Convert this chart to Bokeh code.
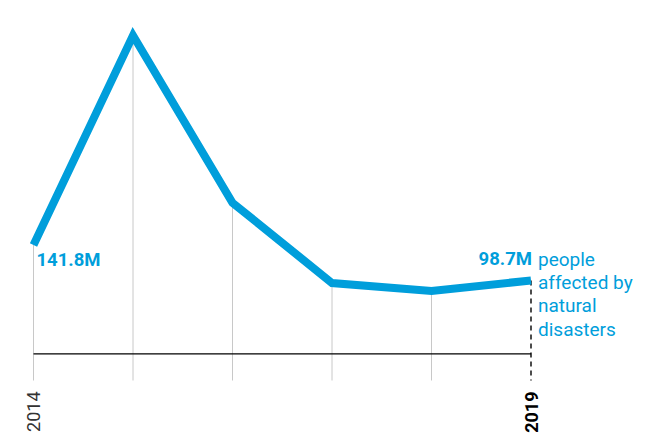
from bokeh.plotting import figure
from bokeh.models import Range1d
from bokeh.core.properties import value
from bokeh.embed import file_html
from bokeh.resources import INLINE

# ---- data ----
years = [2014, 2015, 2016, 2017, 2018, 2019]
people_m = [141.8, 396.0, 193.0, 95.6, 86.0, 98.7]
first_label = "141.8M"
last_label = "98.7M"
note_lines = ["people", "affected by", "natural", "disasters"]
tick_labels = ["2014", "2019"]

# ---- style ----
BLUE = "#009EDB"
FONT = "Roboto"
BASE_V = 9.7      # baseline level (value units)
TICK_V = -22.7    # bottom of the drop lines (value units)

W, H = 648, 436
PX_PER_YEAR = 99.5
PX_PER_M = 0.824
x0 = 2014 - 33 / PX_PER_YEAR
y_top = 361.3 / PX_PER_M

p = figure(width=W, height=H, output_backend="svg", toolbar_location=None,
           x_axis_type=None, y_axis_type=None, min_border=0,
           x_range=Range1d(x0, x0 + W / PX_PER_YEAR),
           y_range=Range1d(y_top - H / PX_PER_M, y_top))
p.outline_line_color = None
p.xgrid.visible = False
p.ygrid.visible = False
p.background_fill_color = "white"

# grey drop lines (all but last)
p.segment(x0=years[:-1], y0=people_m[:-1], x1=years[:-1], y1=[TICK_V] * (len(years) - 1),
          line_color="#c8c8c8", line_width=1)
# dashed black drop line at last year
p.segment(x0=[years[-1]], y0=[people_m[-1]], x1=[years[-1]], y1=[TICK_V],
          line_color="black", line_width=1.4, line_dash="5 4")
# baseline
p.segment(x0=[years[0]], y0=[BASE_V], x1=[years[-1]], y1=[BASE_V],
          line_color="black", line_width=1.2)

# main line
p.line(years, people_m, line_color=BLUE, line_width=8, line_join="miter", line_cap="butt")

# value labels
p.text(x=[years[0]], y=[people_m[0]], text=[first_label], text_color=BLUE,
       text_font=value(FONT), text_font_size="18.5px", text_font_style="bold",
       text_align="left", text_baseline="alphabetic", x_offset=3, y_offset=15)
p.text(x=[years[-1]], y=[people_m[-1]], text=[last_label], text_color=BLUE,
       text_font=value(FONT), text_font_size="18.5px", text_font_style="bold",
       text_align="right", text_baseline="alphabetic", x_offset=1, y_offset=-21)
for i, line in enumerate(note_lines):
    p.text(x=[years[-1]], y=[people_m[-1]], text=[line], text_color=BLUE,
           text_font=value(FONT), text_font_size="19px",
           text_align="left", text_baseline="alphabetic", x_offset=7,
           y_offset=-21 + 23.2 * i)

# year labels (rotated)
p.text(x=[years[0]], y=[TICK_V], text=[tick_labels[0]], text_color="#333333",
       text_font=value(FONT), text_font_size="18px", angle=1.5708,
       text_align="right", text_baseline="middle", y_offset=11)
p.text(x=[years[-1]], y=[TICK_V], text=[tick_labels[1]], text_color="black",
       text_font=value(FONT), text_font_size="18px", text_font_style="bold", angle=1.5708,
       text_align="right", text_baseline="middle", y_offset=11)

open("out.html", "w").write(file_html(p, INLINE))
